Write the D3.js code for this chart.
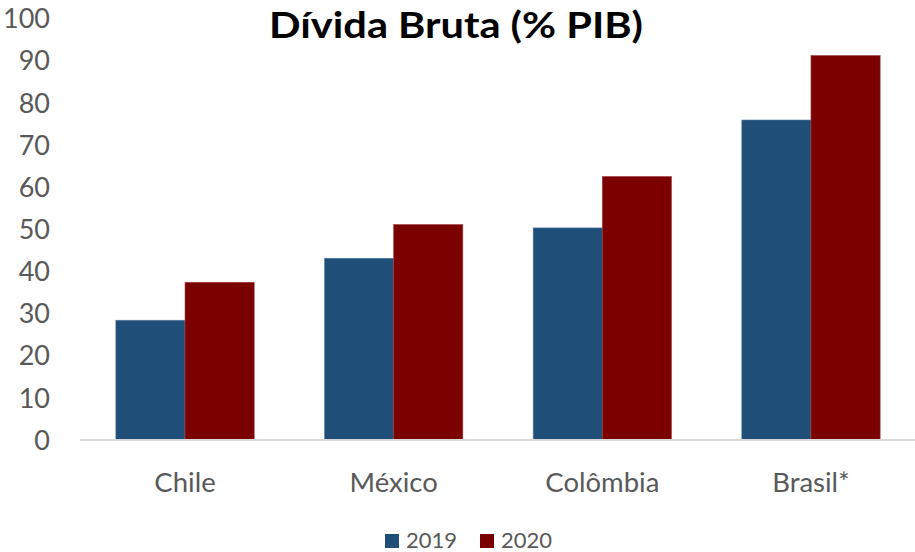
<!DOCTYPE html>
<html>
<head>
<meta charset="utf-8">
<script src="https://cdn.jsdelivr.net/npm/d3@7/dist/d3.min.js"></script>
<style>
  html, body { margin: 0; padding: 0; background: #fff; }
  svg { display: block; }
  text { font-family: Lato, "Open Sans", sans-serif; }
</style>
</head>
<body>
<svg id="chart" width="915" height="552"></svg>
<script>
const categories = ["Chile", "México", "Colômbia", "Brasil*"];
const seriesNames = ["2019", "2020"];
const values2019 = [28.3, 43.0, 50.2, 75.8];
const values2020 = [37.3, 51.0, 62.4, 91.1];
const yTicks = [0, 10, 20, 30, 40, 50, 60, 70, 80, 90, 100];
const colors = ["#1F4E79", "#7B0000"];
const title = "Dívida Bruta (% PIB)";

const seriesValues = [values2019, values2020];
const data = categories.map((c, i) => ({ cat: c, vals: seriesNames.map((s, j) => ({ s, v: seriesValues[j][i], j })) }));

const svg = d3.select("#chart");

const x = d3.scaleBand().domain(categories).range([80.7, 915.3]).paddingInner(0.337).paddingOuter(0.1685);
const xs = d3.scaleBand().domain(seriesNames).range([0, x.bandwidth()]).padding(0);
const y = d3.scaleLinear().domain([0, 100]).range([439.5, 18]);

// title
svg.append("text")
  .attr("x", 269).attr("y", 38)
  .attr("text-anchor", "start")
  .attr("font-family", "Lato, 'Open Sans', sans-serif")
  .attr("font-weight", "bold")
  .attr("font-size", 36)
  .attr("textLength", 374)
  .attr("lengthAdjust", "spacingAndGlyphs")
  .attr("fill", "#000")
  .text(title);

// y tick labels
const yAxis = d3.axisLeft(y).tickValues(yTicks).tickSize(0).tickPadding(0);
const gy = svg.append("g").attr("transform", "translate(50,0)").call(yAxis);
gy.select(".domain").remove();
gy.selectAll("text")
  .attr("font-family", "Lato, 'Open Sans', sans-serif")
  .attr("font-size", 27)
  .attr("fill", "#595959")
  .attr("dy", "0.36em")
  .attr("x", 0);

// bars
const groups = svg.append("g").selectAll("g").data(data).join("g")
  .attr("transform", d => `translate(${x(d.cat)},0)`);
groups.selectAll("rect").data(d => d.vals).join("rect")
  .attr("x", d => xs(d.s))
  .attr("y", d => y(d.v))
  .attr("width", xs.bandwidth())
  .attr("height", d => y(0) - y(d.v))
  .attr("fill", d => colors[d.j])
  .attr("stroke", d => d.j === 0 ? "#5a7fa3" : "#a04040")
  .attr("stroke-width", 0.6);

// x axis baseline
svg.append("line")
  .attr("x1", 80).attr("x2", 915)
  .attr("y1", y(0) + 0.5).attr("y2", y(0) + 0.5)
  .attr("stroke", "#d9d9d9").attr("stroke-width", 1.8);

// category labels
const xAxis = d3.axisBottom(x).tickSize(0).tickPadding(0);
const gx = svg.append("g").attr("transform", "translate(0,492)").call(xAxis);
gx.select(".domain").remove();
gx.selectAll("text")
  .attr("font-family", "Lato, 'Open Sans', sans-serif")
  .attr("font-size", 27.5)
  .attr("fill", "#595959")
  .attr("dy", 0)
  .attr("y", 0);

// legend
const legendX = [385, 480];
const lg = svg.append("g").selectAll("g").data(seriesNames).join("g")
  .attr("transform", (d, i) => `translate(${legendX[i]},534)`);
lg.append("rect").attr("width", 14).attr("height", 14).attr("fill", (d, i) => colors[i]);
lg.append("text").attr("x", 21).attr("y", 14)
  .attr("font-size", 22).attr("fill", "#595959").text(d => d);
</script>
</body>
</html>
